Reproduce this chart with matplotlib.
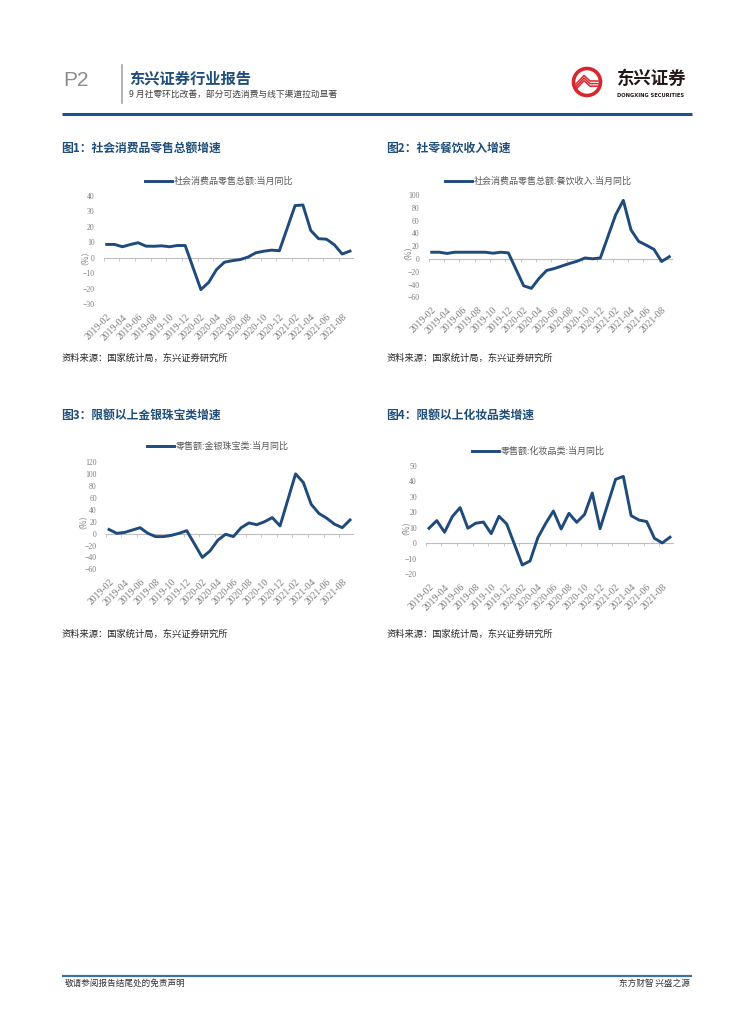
import numpy as np
import pandas as pd
import matplotlib
matplotlib.use('Agg')
import matplotlib.pyplot as plt
from matplotlib.patches import Circle

plt.rcParams['font.family'] = ['Noto Sans CJK SC', 'DejaVu Sans']

# months on the x axis (2019-02 .. 2021-09), January has no monthly value
months = pd.period_range('2019-02', '2021-09', freq='M').strftime('%Y-%m').tolist()
tick_labels = months[::2][:16]

# retail sales yoy (%)
retail = [8.7, 8.7, 7.2, 8.6, 9.8, 7.6, 7.5, 7.8, 7.2, 8.0, 8.0, None,
          -20.5, -15.8, -7.5, -2.8, -1.8, -1.1, 0.5, 3.3, 4.3, 5.0, 4.6, None,
          33.8, 34.2, 17.7, 12.4, 12.1, 8.5, 2.5, 4.4]
# catering revenue yoy (%)
catering = [10.5, 10.5, 8.6, 10.5, 10.5, 10.5, 10.5, 10.5, 9.0, 10.5, 9.5, None,
            -42.0, -46.0, -30.5, -18.0, -15.0, -11.0, -7.0, -3.5, 1.5, 0.2, 1.5, None,
            69.0, 91.6, 45.5, 27.5, 21.5, 15.0, -4.0, 3.5]
# gold, silver & jewellery yoy (%)
jewelry = [7.0, 0.5, 2.0, 6.0, 10.0, 0.5, -5.0, -5.0, -3.0, 0.5, 5.0, None,
           -40.0, -29.0, -11.0, -1.0, -5.0, 10.0, 18.0, 15.0, 20.0, 27.0, 13.0, None,
           100.5, 86.0, 49.5, 34.0, 26.0, 16.0, 10.0, 23.0]
# cosmetics yoy (%)
cosmetics = [9.7, 14.6, 7.1, 17.2, 23.0, 9.7, 12.9, 13.7, 6.2, 17.4, 12.4, None,
             -14.0, -11.4, 3.6, 12.7, 20.8, 9.2, 19.3, 13.5, 18.5, 32.4, 9.4, None,
             41.2, 43.1, 17.8, 15.0, 14.0, 3.2, 0.2, 3.9]

W, H = 755, 1024
BLUE = '#1F4E79'
LINE = '#1F4A7C'

fig = plt.figure(figsize=(W / 100, H / 100), dpi=100)

# page overlay in pixel coordinates
ax0 = fig.add_axes([0, 0, 1, 1])
ax0.set_xlim(0, W)
ax0.set_ylim(H, 0)
ax0.axis('off')

# header
ax0.text(63, 81, 'P2', fontsize=15, color='#8C8C8C', va='center', ha='left',
         family=['Liberation Sans', 'DejaVu Sans'])
ax0.plot([122, 122], [65, 103], color='#A6A6A6', lw=1.2)
ax0.text(129, 79, '东兴证券行业报告', fontsize=11, color=BLUE, fontweight='bold',
         va='center', ha='left')
ax0.text(129, 94.5, '9 月社零环比改善，部分可选消费与线下渠道拉动显著', fontsize=6.3,
         color='#404040', va='center', ha='left')
ax0.plot([62, 692], [113.5, 113.5], color='#1F4E8C', lw=2.2, solid_capstyle='butt')

# logo
ax0.add_patch(Circle((587, 82), 13.5, facecolor='white', edgecolor='#D7262E', lw=2.6))
for d in (0, 2.6, 5.2):
    ax0.plot([576, 584, 590, 598], [84 + d, 75.5 + d, 81 + d, 81 + d],
             color='#D7262E', lw=1.1)
ax0.text(617, 79, '东兴证券', fontsize=12.5, fontweight='bold', color='#231815',
         va='center', ha='left')
ax0.text(617, 95.5, 'DONGXING SECURITIES', fontsize=3.7, fontweight='bold',
         color='#231815', va='center', ha='left', family=['DejaVu Sans'])

# footer
ax0.plot([62, 692], [975.5, 975.5], color='#3F6FA5', lw=1.6, solid_capstyle='butt')
ax0.text(65, 983, '敬请参阅报告结尾处的免责声明', fontsize=6.2, color='#333333',
         va='center', ha='left')
ax0.text(690, 983, '东方财智 兴盛之源', fontsize=6.2, color='#333333',
         va='center', ha='right')

panels = [
    dict(data=retail, title='图1：社会消费品零售总额增速', legend='社会消费品零售总额:当月同比',
         x0=106.7, x1=350.0, ytop=196.0, ybot=304.3, ylim=(-30, 40), step=10,
         tx=61, ty=148.5, lx=145, ly=181.7, ylx=80, yly=253, sy=358),
    dict(data=catering, title='图2：社零餐饮收入增速', legend='社会消费品零售总额:餐饮收入:当月同比',
         x0=431.7, x1=669.3, ytop=195.0, ybot=297.3, ylim=(-60, 100), step=20,
         tx=386, ty=148.5, lx=445, ly=181.7, ylx=403, yly=248, sy=358),
    dict(data=jewelry, title='图3：限额以上金银珠宝类增速', legend='零售额:金银珠宝类:当月同比',
         x0=109.0, x1=350.0, ytop=462.3, ybot=569.3, ylim=(-60, 120), step=20,
         tx=61, ty=415.5, lx=147, ly=446.7, ylx=78, yly=517, sy=634),
    dict(data=cosmetics, title='图4：限额以上化妆品类增速', legend='零售额:化妆品类:当月同比',
         x0=429.0, x1=670.0, ytop=465.7, ybot=574.3, ylim=(-20, 50), step=10,
         tx=386, ty=415.5, lx=472, ly=451.7, ylx=401, yly=523, sy=634),
]

idx = np.arange(len(months))
lo, hi = -0.4, len(months) - 1 + 0.35
for p in panels:
    sp = (p['x1'] - p['x0']) / (len(months) - 1)
    left = p['x0'] + lo * sp
    right = p['x1'] + 0.35 * sp
    ax = fig.add_axes([left / W, 1 - p['ybot'] / H, (right - left) / W,
                       (p['ybot'] - p['ytop']) / H])
    ax.set_facecolor('none')

    vals = np.array([np.nan if v is None else v for v in p['data']], dtype=float)
    ok = ~np.isnan(vals)
    line, = ax.plot(idx[ok], vals[ok], color=LINE, lw=2.1, solid_joinstyle='round',
                    label=p['legend'], zorder=3)

    ax.set_xlim(lo, hi)
    ymin, ymax = p['ylim']
    ax.set_ylim(ymin, ymax)
    for s in ax.spines.values():
        s.set_visible(False)

    # zero axis with small tick marks every two months
    zax = ax.secondary_xaxis((0 - ymin) / (ymax - ymin))
    zax.set_xticks(np.arange(lo, hi, 2))
    zax.tick_params(length=2.5, width=0.6, color='#BFBFBF', labelbottom=False)
    zax.spines['bottom'].set_color('#BFBFBF')
    zax.spines['bottom'].set_linewidth(0.8)

    ax.set_yticks(np.arange(ymin, ymax + 1, p['step']))
    ax.set_xticks(idx[::2][:16])
    ax.set_xticklabels(tick_labels, rotation=45, ha='right', rotation_mode='anchor')
    ax.tick_params(axis='both', length=0, colors='#7F7F7F')
    ax.tick_params(axis='y', pad=6.5, labelsize=5.6)
    ax.tick_params(axis='x', pad=6.0, labelsize=7)
    for t in ax.get_xticklabels() + ax.get_yticklabels():
        t.set_family(['Liberation Serif', 'DejaVu Serif'])

    fig.text(p['ylx'] / W, 1 - p['yly'] / H, '（%）', rotation=90, fontsize=5.8,
             color='#7F7F7F', ha='center', va='center')

    ax.legend(handles=[line], loc='center left',
              bbox_to_anchor=(p['lx'] / W, 1 - p['ly'] / H), bbox_transform=fig.transFigure,
              frameon=False, borderpad=0, borderaxespad=0, handlelength=3.0,
              handletextpad=0.2, prop={'size': 6.5}, labelcolor='#595959')

    ax0.text(p['tx'], p['ty'], p['title'], fontsize=8.5, fontweight='bold', color=BLUE,
             va='center', ha='left')
    ax0.text(p['tx'] + 1, p['sy'], '资料来源：国家统计局，东兴证券研究所', fontsize=6.7,
             color='#262626', va='center', ha='left')

fig.savefig('out.png', dpi=100)
